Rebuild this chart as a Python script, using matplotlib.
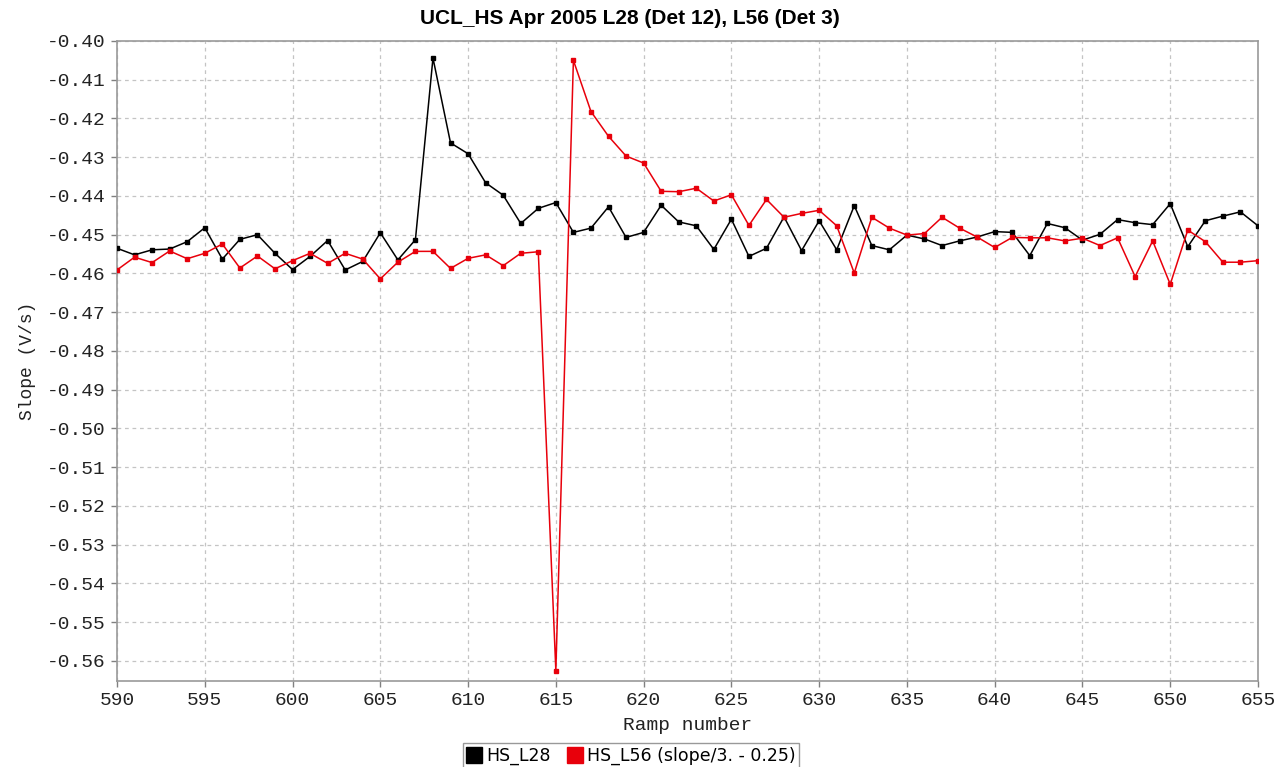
import matplotlib
matplotlib.use("Agg")
import matplotlib.pyplot as plt
from matplotlib.lines import Line2D

ramp = list(range(590, 656))
hs_l28 = [-0.4535, -0.4552, -0.4539, -0.4537, -0.4518, -0.4482, -0.4563, -0.4512, -0.4500, -0.4548,
          -0.4590, -0.4556, -0.4515, -0.4591, -0.4569, -0.4495, -0.4565, -0.4513, -0.4044, -0.4263,
          -0.4291, -0.4366, -0.4398, -0.4471, -0.4432, -0.4417, -0.4494, -0.4483, -0.4428, -0.4507,
          -0.4494, -0.4424, -0.4467, -0.4477, -0.4538, -0.4460, -0.4556, -0.4535, -0.4454, -0.4541,
          -0.4464, -0.4539, -0.4425, -0.4528, -0.4539, -0.4501, -0.4511, -0.4528, -0.4516, -0.4506,
          -0.4492, -0.4494, -0.4554, -0.4471, -0.4482, -0.4514, -0.4499, -0.4461, -0.4469, -0.4474,
          -0.4420, -0.4531, -0.4464, -0.4452, -0.4441, -0.4477]
hs_l56 = [-0.4591, -0.4558, -0.4572, -0.4542, -0.4562, -0.4548, -0.4524, -0.4586, -0.4555, -0.4588,
          -0.4567, -0.4548, -0.4574, -0.4548, -0.4563, -0.4614, -0.4571, -0.4543, -0.4543, -0.4587,
          -0.4561, -0.4552, -0.4580, -0.4548, -0.4544, -0.5625, -0.4050, -0.4182, -0.4246, -0.4297,
          -0.4315, -0.4388, -0.4389, -0.4380, -0.4413, -0.4397, -0.4476, -0.4409, -0.4455, -0.4445,
          -0.4437, -0.4477, -0.4599, -0.4455, -0.4483, -0.4501, -0.4497, -0.4455, -0.4483, -0.4506,
          -0.4533, -0.4507, -0.4508, -0.4508, -0.4516, -0.4509, -0.4528, -0.4508, -0.4608, -0.4516,
          -0.4628, -0.4488, -0.4518, -0.4571, -0.4571, -0.4567]
x_ticks = list(range(590, 656, 5))
y_ticks = [-0.40, -0.41, -0.42, -0.43, -0.44, -0.45, -0.46, -0.47, -0.48,
           -0.49, -0.50, -0.51, -0.52, -0.53, -0.54, -0.55, -0.56]
labels = ["HS_L28", "HS_L56 (slope/3. - 0.25)"]
title = "UCL_HS Apr 2005 L28 (Det 12), L56 (Det 3)"

black = "#000000"
red = "#e8000b"
mono = "Liberation Mono"

fig = plt.figure(figsize=(12.87, 7.67), dpi=100)
ax = fig.add_axes([117/1287, 1 - 681/767, (1258-117)/1287, (681-41)/767])

ax.plot(ramp, hs_l28, color=black, lw=1.1, marker="s", ms=3.2, zorder=3)
ax.plot(ramp, hs_l56, color=red, lw=1.1, marker="s", ms=3.2, zorder=3)

ax.set_xlim(590, 655)
ax.set_ylim(-0.5652, -0.40)
ax.set_xticks(x_ticks)
ax.set_yticks(y_ticks)
ax.set_xticklabels([str(v) for v in x_ticks], fontfamily=mono, fontsize=14, color="#222222")
ax.set_yticklabels(["%.2f" % v for v in y_ticks], fontfamily=mono, fontsize=14, color="#222222")
ax.grid(True, color="#c4c4c4", linestyle=(0, (3, 3)), linewidth=0.9)
ax.tick_params(direction="out", length=4, width=1, color="#808080", pad=4)
for s in ax.spines.values():
    s.set_color("#9a9a9a")
    s.set_linewidth(1.2)

ax.set_xlabel("Ramp number", fontfamily=mono, fontsize=14, labelpad=6, color="#222222")
ax.set_ylabel("Slope (V/s)", fontfamily=mono, fontsize=13, labelpad=8, color="#222222")
fig.text(630/1287, 1 - 18/767, title, ha="center", va="center",
         fontsize=15, fontweight="bold",
         fontfamily=["Liberation Sans Narrow", "Liberation Sans"])

handles = [Line2D([], [], ls="none", marker="s", ms=11, color=black),
           Line2D([], [], ls="none", marker="s", ms=11, color=red)]
fig.legend(handles, labels, loc="center", bbox_to_anchor=(631/1287, 1 - 756/767),
           ncol=2, frameon=True, fancybox=False, edgecolor="#808080",
           prop={"family": "DejaVu Sans", "size": 12.5}, handlelength=0.8,
           handletextpad=0.3, columnspacing=1.0, borderpad=0.2, borderaxespad=0)

fig.savefig("out.png", dpi=100)
